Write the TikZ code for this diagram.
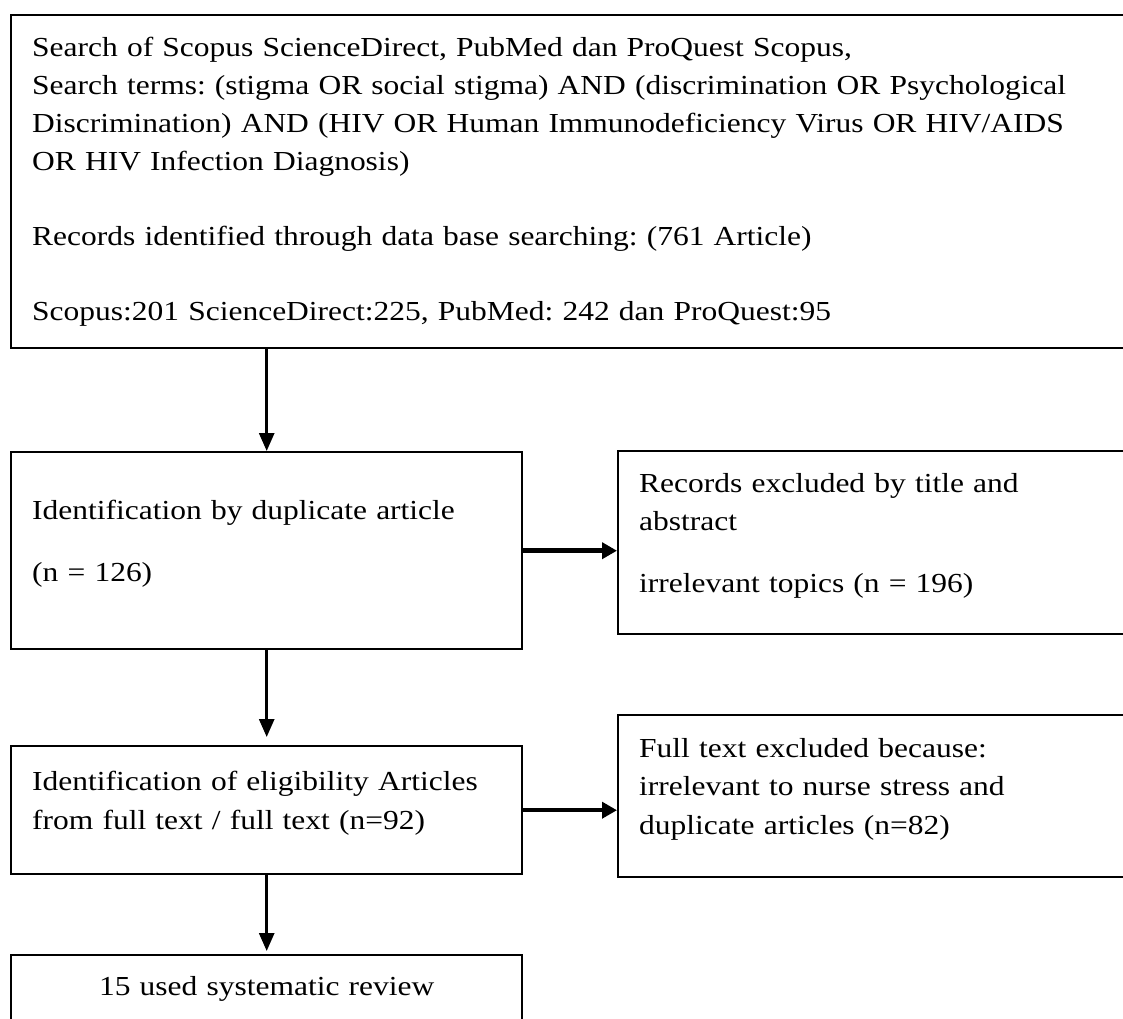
\documentclass[tikz,border=0pt]{standalone}
\usepackage{fontspec}
\setmainfont{Liberation Serif}[FakeStretch=1.145]
\usepackage{tikz}
\usetikzlibrary{arrows.meta}
\newcommand{\liftup}{\par\vspace{14pt}\hrule height 0pt}

\begin{document}
\frenchspacing
\begin{tikzpicture}[x=1pt, y=-1pt,
	box/.style={draw, line width=2.4pt, anchor=north west, align=left, inner xsep=21pt, inner ysep=0pt, font=\fontsize{27.5}{38.3}\selectfont},
	flow/.style={-{Triangle[length=18pt, width=15pt]}, line width=2.8pt},
	side/.style={-{Triangle[length=15pt, width=16pt]}, line width=4.5pt}]
	\useasboundingbox (0,0) rectangle (1123,1018);
	\clip (0,0) rectangle (1123,1018);
	%\draw[gray!30] (0,0) grid[step=50] (1123,1018);
	\node[box, text width=1120pt, minimum height=333pt] (search) at (10,14) {Search of Scopus ScienceDirect, PubMed dan ProQuest Scopus,\\ Search terms: (stigma OR social stigma) AND (discrimination OR Psychological\\ Discrimination) AND (HIV OR Human Immunodeficiency Virus OR HIV/AIDS\\ OR HIV Infection Diagnosis)\\[36.7pt] Records identified through data base searching: (761 Article)\\[36.7pt] Scopus:201 ScienceDirect:225, PubMed: 242 dan ProQuest:95};
	\node[box, text width=469pt, minimum height=197pt] (ident) at (10,451) {Identification by duplicate article\\[23pt] (n = 126)\liftup};
	\node[box, text width=600pt, minimum height=183pt] (excl) at (617,450) {Records excluded by title and\\ abstract\\[23pt] irrelevant topics (n = 196)\liftup};
	\node[box, text width=469pt, minimum height=128pt] (elig) at (10,745) {Identification of eligibility Articles\\ from full text / full text (n=92)\liftup};
	\node[box, text width=600pt, minimum height=162pt] (full) at (617,714) {Full text excluded because:\\ irrelevant to nurse stress and\\ duplicate articles (n=82)\liftup};
	\node[box, align=center, text width=469pt, minimum height=67pt] (used) at (10,954) {15 used systematic review};
	\draw[flow] (ident.north |- search.south) -- (ident.north);
	\draw[flow, shorten >=8pt] (ident.south) -- (elig.north);
	\draw[flow, shorten >=3pt] (elig.south) -- (used.north);
	\draw[side] (ident.east) -- (ident.east -| excl.west);
	\draw[side] (elig.east) -- (elig.east -| full.west);
\end{tikzpicture}
\end{document}
